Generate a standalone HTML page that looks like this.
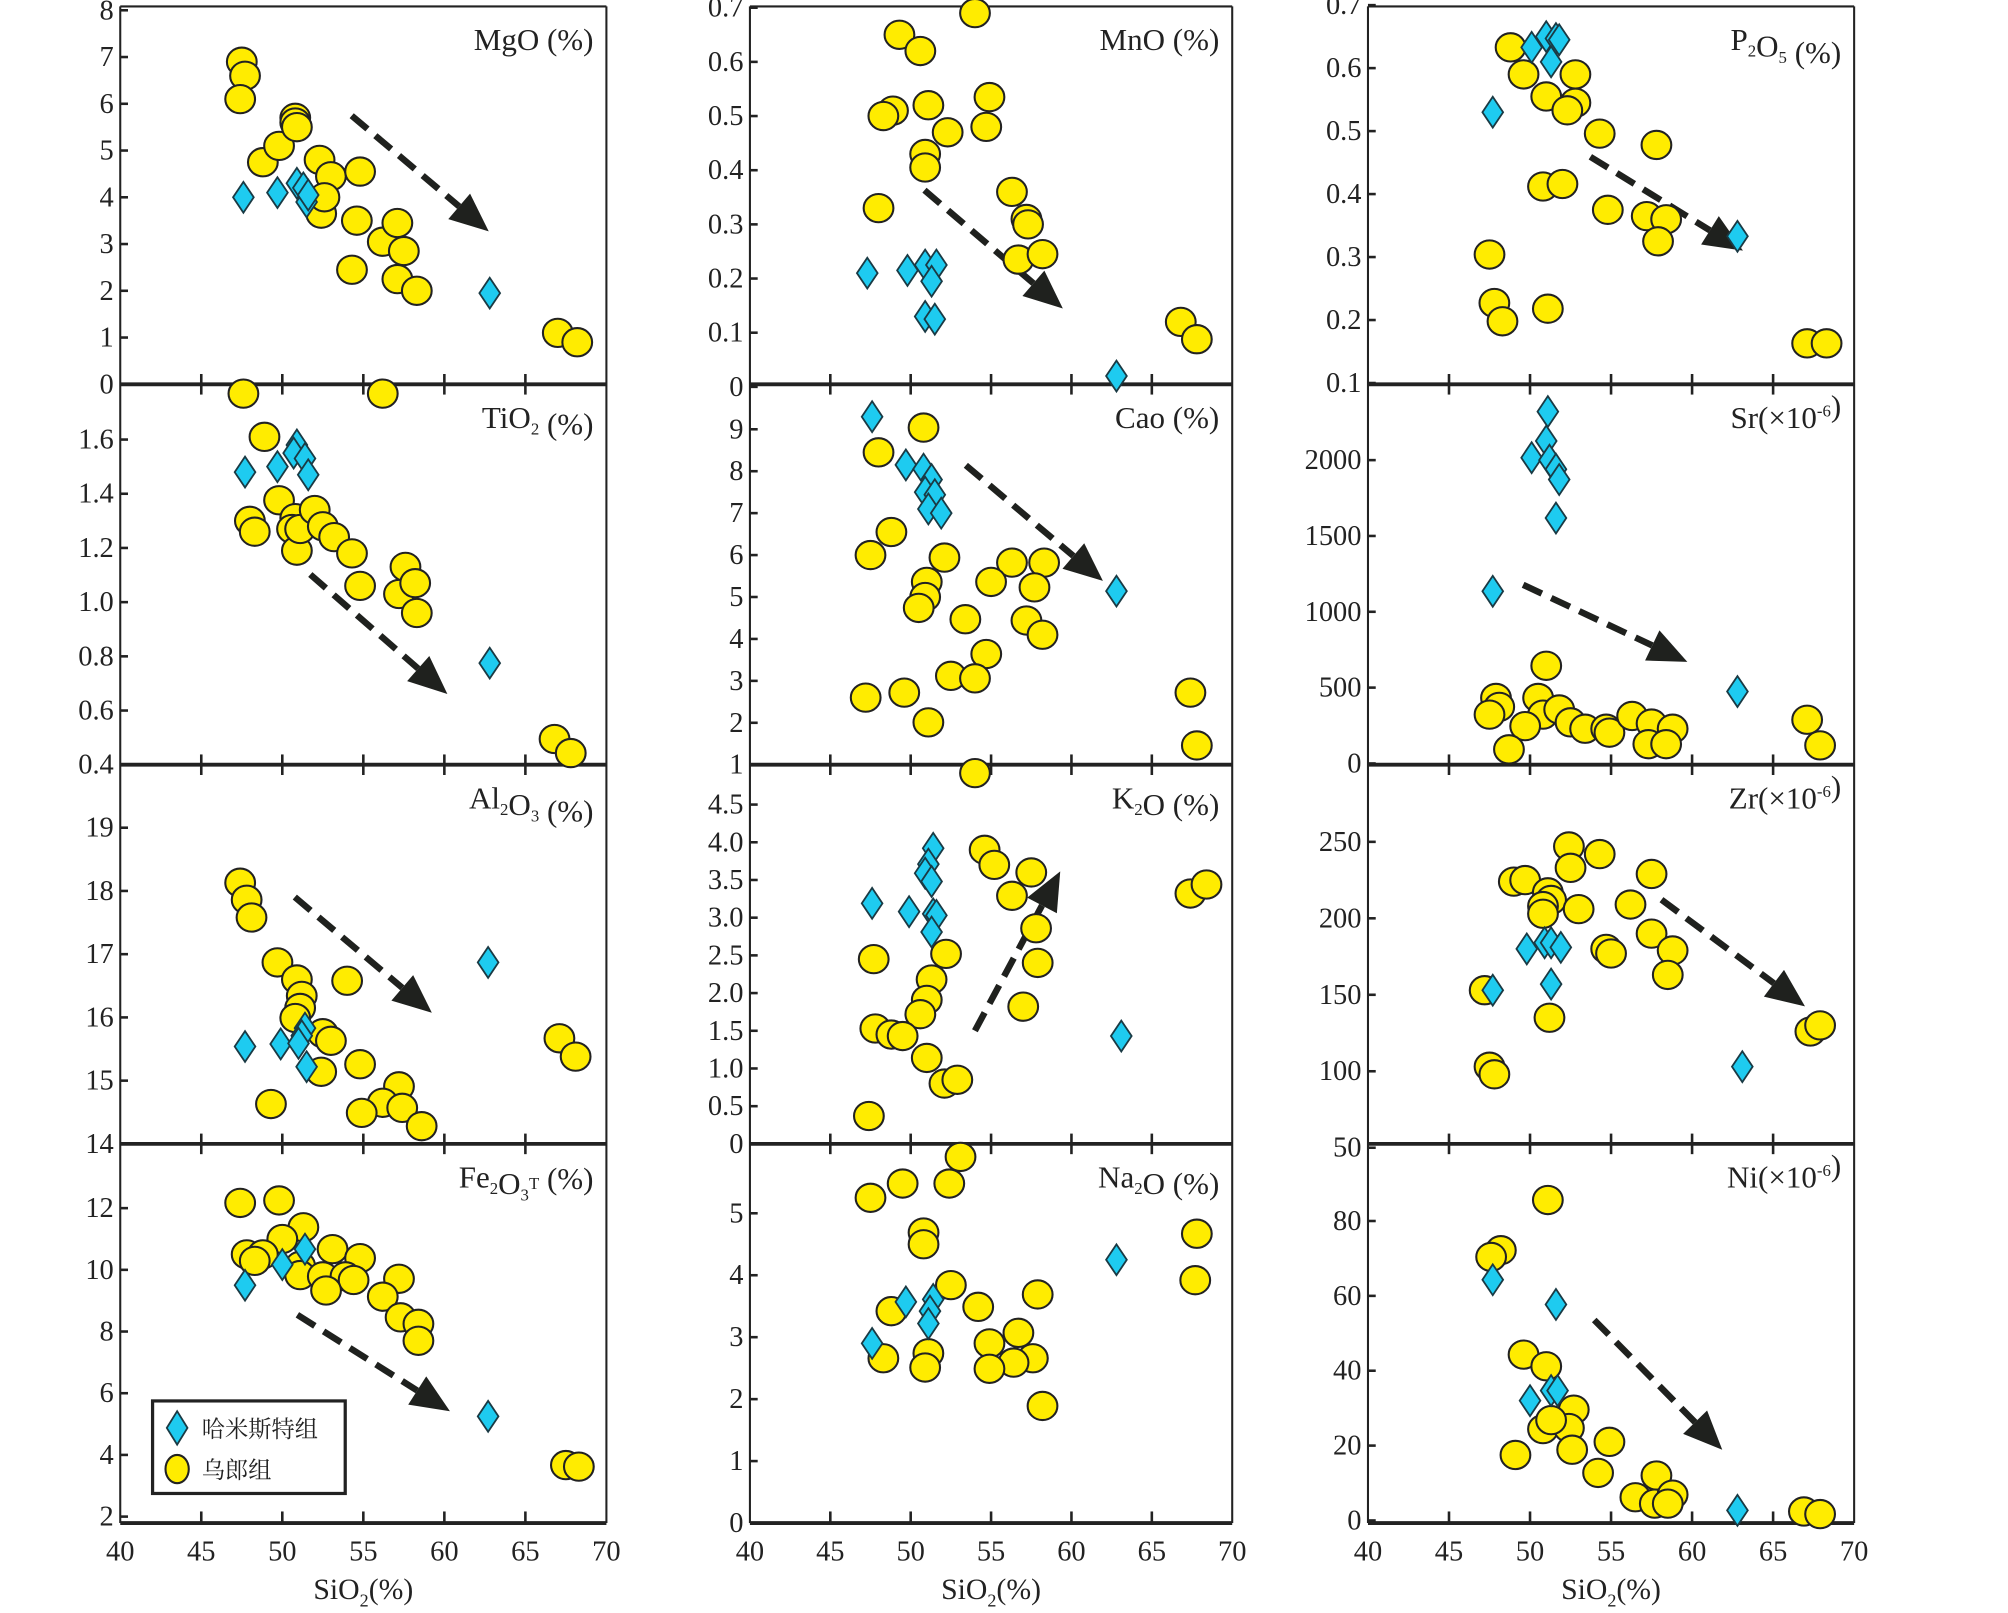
<!DOCTYPE html>
<html><head><meta charset="utf-8">
<style>
html,body{margin:0;padding:0;background:#fff;}
svg{display:block;}
text{font-family:"Liberation Serif","Noto Serif CJK SC",serif;fill:#222;}
</style></head>
<body>
<svg id="chart" width="2008" height="1613" viewBox="0 0 1553 1255" preserveAspectRatio="none" xmlns="http://www.w3.org/2000/svg">
<g id="root"></g>
</svg>
<script>
// ---- data (SiO2, value) ----
const xTicks=[40,45,50,55,60,65,70];
const mgoCircles=[[47.5,6.9],[47.7,6.6],[47.4,6.1],[48.8,4.75],[49.8,5.1],[50.8,5.7],[50.8,5.6],[50.9,5.5],[52.3,4.8],[53,4.45],[52.4,3.65],[52.6,4.0],[54.8,4.55],[54.6,3.5],[54.3,2.45],[56.2,3.05],[57.1,3.45],[57.5,2.85],[57.1,2.25],[58.3,2.0],[67,1.1],[68.2,0.9],[47.6,-0.2],[56.2,-0.2]];
const mgoDiamonds=[[47.6,4.0],[49.7,4.1],[50.9,4.3],[51.3,4.2],[51.5,3.9],[51.6,4.05],[62.8,1.95]];
const mnoCircles=[[49.3,0.65],[54,0.69],[50.6,0.62],[48.9,0.51],[48.3,0.50],[51.1,0.52],[52.3,0.47],[54.9,0.535],[54.7,0.48],[50.9,0.43],[50.9,0.405],[48,0.33],[56.3,0.36],[57.2,0.31],[57.3,0.30],[56.7,0.235],[58.2,0.245],[66.8,0.12],[67.8,0.088]];
const mnoDiamonds=[[47.3,0.21],[49.8,0.215],[50.9,0.225],[51.6,0.225],[51.3,0.195],[50.9,0.13],[51.5,0.125],[62.8,0.02]];
const p2o5Circles=[[48.8,0.633],[49.6,0.59],[52.8,0.59],[51,0.555],[52.8,0.545],[52.3,0.533],[54.3,0.496],[57.8,0.478],[50.8,0.412],[52,0.416],[54.8,0.375],[57.2,0.365],[58.4,0.36],[57.9,0.325],[47.5,0.304],[47.8,0.227],[48.3,0.198],[51.1,0.218],[67.1,0.163],[68.3,0.163]];
const p2o5Diamonds=[[50.1,0.633],[51,0.65],[51.6,0.647],[51.8,0.645],[51.3,0.61],[47.7,0.53],[62.8,0.333]];
const tio2Circles=[[48.9,1.61],[49.8,1.376],[48,1.30],[48.3,1.26],[50.8,1.31],[50.6,1.27],[50.9,1.19],[51.1,1.27],[52,1.34],[52.5,1.28],[53.2,1.24],[54.3,1.18],[54.8,1.06],[57.6,1.13],[57.2,1.03],[58.2,1.07],[58.3,0.96],[66.8,0.495],[67.8,0.443]];
const tio2Diamonds=[[47.7,1.48],[49.7,1.50],[50.9,1.58],[50.7,1.55],[51.4,1.53],[51.6,1.47],[62.8,0.775]];
const caoCircles=[[50.8,9.04],[48,8.45],[48.8,6.55],[47.5,6.0],[52.1,5.94],[56.3,5.82],[58.3,5.82],[51,5.36],[55,5.36],[57.7,5.23],[50.9,5.0],[50.5,4.74],[53.4,4.47],[57.2,4.44],[58.2,4.1],[54.7,3.64],[52.5,3.12],[54,3.06],[47.2,2.6],[49.6,2.72],[51.1,2.01],[67.4,2.72],[67.8,1.46],[54,0.8]];
const caoDiamonds=[[47.6,9.3],[49.7,8.15],[50.8,8.05],[51.3,7.8],[50.9,7.5],[51.5,7.44],[51.1,7.1],[51.9,7.0],[62.8,5.14]];
const srCircles=[[51,644],[47.9,432],[48.1,373],[47.5,322],[50.5,432],[50.8,322],[51.8,356],[49.7,246],[48.7,93],[52.5,271],[53.4,229],[54.7,229],[54.9,203],[56.3,313],[57.5,263],[58.8,229],[57.3,127],[58.4,127],[67.1,288],[67.9,119]];
const srDiamonds=[[51.1,2320],[51,2126],[50.1,2016],[51.2,2000],[51.6,1940],[51.8,1872],[51.6,1618],[47.7,1135],[62.8,474]];
const al2o3Circles=[[47.4,18.13],[47.8,17.86],[48.1,17.58],[49.7,16.87],[50.9,16.6],[51.2,16.34],[51.1,16.15],[50.8,15.99],[54,16.58],[52.5,15.75],[53,15.63],[54.8,15.26],[52.4,15.14],[57.2,14.91],[56.2,14.65],[57.4,14.57],[54.9,14.49],[49.3,14.63],[58.6,14.28],[67.1,15.67],[68.1,15.38]];
const al2o3Diamonds=[[47.7,15.54],[49.9,15.58],[51.4,15.83],[51.2,15.71],[51,15.59],[51.5,15.22],[62.7,16.87]];
const k2oCircles=[[54.6,3.9],[55.2,3.7],[57.5,3.6],[56.3,3.29],[67.4,3.32],[68.4,3.44],[47.7,2.45],[52.2,2.52],[57.8,2.86],[57.9,2.4],[57,1.82],[51.3,2.18],[51,1.91],[50.6,1.72],[47.8,1.53],[48.8,1.45],[49.5,1.43],[51,1.14],[52.1,0.8],[52.9,0.85],[47.4,0.37]];
const k2oDiamonds=[[51.4,3.92],[51.1,3.71],[50.9,3.59],[51.3,3.48],[47.6,3.19],[49.9,3.08],[51.4,3.05],[51.6,3.03],[51.3,2.81],[63.1,1.43]];
const zrCircles=[[52.4,247],[54.3,242],[49,224],[49.7,225],[51.1,217],[51.3,212],[50.8,208],[50.8,203],[52.5,233],[57.5,229],[53,206],[56.2,209],[57.5,190],[54.7,180],[55,177],[58.8,179],[58.5,163],[47.2,153],[47.5,103],[47.8,98],[51.2,135],[67.3,126],[67.9,130]];
const zrDiamonds=[[49.8,180],[50.9,184],[51.3,184],[51.9,181],[51.3,157],[47.7,153],[63.1,103]];
const fe2o3Circles=[[47.4,12.17],[49.8,12.25],[51.3,11.38],[50,11],[47.8,10.5],[48.8,10.5],[48.3,10.29],[53.1,10.67],[54.8,10.38],[51.1,10.13],[51.1,9.83],[52.5,9.79],[53.9,9.79],[54.4,9.67],[57.2,9.71],[52.7,9.33],[56.2,9.13],[57.3,8.46],[58.4,8.25],[58.4,7.7],[67.5,3.67],[68.3,3.62]];
const fe2o3Diamonds=[[47.7,9.5],[50,10.17],[51.4,10.67],[62.7,5.25]];
const na2oCircles=[[53.1,5.91],[49.5,5.48],[52.4,5.48],[47.5,5.25],[50.8,4.69],[50.8,4.5],[67.8,4.67],[67.7,3.92],[52.5,3.84],[57.9,3.69],[54.2,3.49],[48.8,3.42],[56.7,3.07],[54.9,2.9],[51.1,2.74],[48.3,2.66],[57.6,2.66],[56.4,2.59],[54.9,2.49],[50.9,2.51],[58.2,1.89]];
const na2oDiamonds=[[49.7,3.57],[51.4,3.61],[51.2,3.42],[51.1,3.22],[47.6,2.9],[62.8,4.25]];
const niCircles=[[51.1,85.6],[48.2,72.2],[47.6,70.4],[49.6,44.3],[51,41.2],[52.7,29.6],[50.8,24.4],[52.4,24.7],[51.3,26.8],[49.1,17.5],[52.6,18.9],[54.9,21],[54.2,12.7],[57.8,12],[56.5,6.2],[57.7,4.5],[58.8,6.9],[58.5,4.5],[66.9,2.4],[67.9,1.7]];
const niDiamonds=[[47.7,64.3],[51.6,57.7],[50,32],[51.3,34.7],[51.7,34.7],[62.8,2.7]];
// y tick labels
const mgoTicks=["0","1","2","3","4","5","6","7","8"];
const mnoTicks=["0","0.1","0.2","0.3","0.4","0.5","0.6","0.7"];
const p2o5Ticks=["0.1","0.2","0.3","0.4","0.5","0.6","0.7"];
const tio2Ticks=["0.4","0.6","0.8","1.0","1.2","1.4","1.6"];
const caoTicks=["1","2","3","4","5","6","7","8","9"];
const srTicks=["0","500","1000","1500","2000"];
const al2o3Ticks=["14","15","16","17","18","19"];
const k2oTicks=["0","0.5","1.0","1.5","2.0","2.5","3.0","3.5","4.0","4.5"];
const zrTicks=["50","100","150","200","250"];
const fe2o3Ticks=["2","4","6","8","10","12"];
const na2oTicks=["0","1","2","3","4","5"];
const niTicks=["0","20","40","60","80"];

// ---- layout ----
const NS="http://www.w3.org/2000/svg";
const root=document.getElementById('root');
const colX=[93,580,1058], colW=[376,373,376];
const rowY=[5,299,595,890,1185];
function mk(tag,attrs,parent){const e=document.createElementNS(NS,tag);for(const k in attrs)e.setAttribute(k,attrs[k]);(parent||root).appendChild(e);return e;}
const panels=[
 {id:'mgo',c:0,r:0,v0:0,p0:299,v1:8,p1:8,circ:mgoCircles,dia:mgoDiamonds,ticks:mgoTicks,title:[['MgO (%)']],arrow:[272,90,378,180]},
 {id:'mno',c:1,r:0,v0:0,p0:301,v1:0.7,p1:6,circ:mnoCircles,dia:mnoDiamonds,ticks:mnoTicks,title:[['MnO (%)']],arrow:[715,148,822,240]},
 {id:'p2o5',c:2,r:0,v0:0.1,p0:298,v1:0.7,p1:4,circ:p2o5Circles,dia:p2o5Diamonds,ticks:p2o5Ticks,title:[['P'],['2','sub'],['O'],['5','sub'],[' (%)']],arrow:[1230,122,1348,195]},
 {id:'tio2',c:0,r:1,v0:0.4,p0:595,v1:1.6,p1:342,circ:tio2Circles,dia:tio2Diamonds,ticks:tio2Ticks,title:[['TiO'],['2','sub'],[' (%)']],arrow:[240,447,346,540]},
 {id:'cao',c:1,r:1,v0:1,p0:595,v1:9,p1:334,circ:caoCircles,dia:caoDiamonds,ticks:caoTicks,title:[['Cao (%)']],arrow:[747,362,853,452]},
 {id:'sr',c:2,r:1,v0:0,p0:594,v1:2000,p1:358,circ:srCircles,dia:srDiamonds,ticks:srTicks,title:[['Sr(×10'],['-6','sup'],[')']],arrow:[1178,455,1305,515]},
 {id:'al2o3',c:0,r:2,v0:14,p0:890,v1:19,p1:644,circ:al2o3Circles,dia:al2o3Diamonds,ticks:al2o3Ticks,title:[['Al'],['2','sub'],['O'],['3','sub'],[' (%)']],arrow:[228,698,334,788]},
 {id:'k2o',c:1,r:2,v0:0,p0:890,v1:4.5,p1:626,circ:k2oCircles,dia:k2oDiamonds,ticks:k2oTicks,title:[['K'],['2','sub'],['O (%)']],arrow:[754,802,820,678]},
 {id:'zr',c:2,r:2,v0:50,p0:893,v1:250,p1:655,circ:zrCircles,dia:zrDiamonds,ticks:zrTicks,title:[['Zr(×10'],['-6','sup'],[')']],arrow:[1285,700,1396,783]},
 {id:'fe2o3',c:0,r:3,v0:2,p0:1180,v1:12,p1:940,circ:fe2o3Circles,dia:fe2o3Diamonds,ticks:fe2o3Ticks,title:[['Fe'],['2','sub'],['O'],['3','sub'],['T','sup'],[' (%)']],arrow:[230,1023,348,1098]},
 {id:'na2o',c:1,r:3,v0:0,p0:1185,v1:5,p1:944,circ:na2oCircles,dia:na2oDiamonds,ticks:na2oTicks,title:[['Na'],['2','sub'],['O (%)']],arrow:null},
 {id:'ni',c:2,r:3,v0:0,p0:1183,v1:80,p1:950,circ:niCircles,dia:niDiamonds,ticks:niTicks,title:[['Ni(×10'],['-6','sup'],[')']],arrow:[1233,1027,1332,1128]}
];
function xs(c,v){return colX[c]+(v-40)/30*colW[c];}

// frames
for(let c=0;c<3;c++){
  const g=mk('g',{});
  
  
  mk('line',{x1:colX[c],y1:rowY[0],x2:colX[c],y2:rowY[4],stroke:'#222','stroke-width':1.6},g);
  mk('line',{x1:colX[c]+colW[c],y1:rowY[0],x2:colX[c]+colW[c],y2:rowY[4],stroke:'#222','stroke-width':1.6},g);
  mk('line',{x1:colX[c],y1:rowY[0],x2:colX[c]+colW[c],y2:rowY[0],stroke:'#222','stroke-width':1.6},g);
  for(let r=1;r<5;r++){
    mk('line',{x1:colX[c],y1:rowY[r],x2:colX[c]+colW[c],y2:rowY[r],stroke:'#222','stroke-width':3},g);
    for(const t of xTicks.slice(1,-1)){
      const x=xs(c,t);
      mk('line',{x1:x,y1:rowY[r]-(r==4?9:8),x2:x,y2:rowY[r]+(r==4?0:8),stroke:'#222','stroke-width':2},g);
    }
  }
  const ax=mk('g',{},g);
  
  
  for(const t of xTicks){
    const tx=mk('text',{x:xs(c,t),y:1214,'text-anchor':'middle','font-size':22},ax);
    tx.textContent=t;
  }
  const xt=mk('text',{x:colX[c]+colW[c]/2,y:1244,'text-anchor':'middle','font-size':23},g);
  
  
  xt.innerHTML='SiO<tspan font-size="14" dy="6">2</tspan><tspan dy="-6">(%)</tspan>';
}

for(const p of panels){
  const g=mk('g',{});
  
  
  const ys=v=>p.p0+(v-p.v0)/(p.v1-p.v0)*(p.p1-p.p0);
  const x0=colX[p.c];
  const n=p.ticks.length;
  for(let i=0;i<n;i++){
    const v=parseFloat(p.ticks[i]);
    const y=ys(v);
    mk('line',{x1:x0,y1:y,x2:x0+6,y2:y,stroke:'#222','stroke-width':2},g);
    const t=mk('text',{x:x0-5,y:y+7,'text-anchor':'end','font-size':22},g);
    
    
    t.textContent=p.ticks[i];
  }
  const tt=mk('text',{x:x0+colW[p.c]-10,y:rowY[p.r]+34,'text-anchor':'end','font-size':24},g);
  
  
  let h='';
  for(const s of p.title){
    if(s[1]=='sub')h+='<tspan font-size="13" dy="5">'+s[0]+'</tspan><tspan dy="-5"></tspan>';
    else if(s[1]=='sup')h+='<tspan font-size="13" dy="-9">'+s[0]+'</tspan><tspan dy="9"></tspan>';
    else h+='<tspan>'+s[0]+'</tspan>';
  }
  tt.innerHTML=h;
  if(p.arrow){
    const a=p.arrow;
    const dx=a[2]-a[0],dy=a[3]-a[1],L=Math.hypot(dx,dy);
    const ux=dx/L,uy=dy/L,hl=30,hw=13;
    const bx=a[2]-ux*hl,by=a[3]-uy*hl;
    const ln=mk('line',{x1:a[0],y1:a[1],x2:bx,y2:by,stroke:'#1f211e','stroke-width':5,'stroke-dasharray':'16,8'},g);
    
    
    const hd=mk('polygon',{points:`${a[2]},${a[3]} ${bx-uy*hw},${by+ux*hw} ${bx+uy*hw},${by-ux*hw}`,fill:'#1f211e'},g);
    
    
  }
  for(const d of p.circ){
    const e=mk('ellipse',{cx:xs(p.c,d[0]),cy:ys(d[1]),rx:11.5,ry:11,fill:'#ffec00',stroke:'#222','stroke-width':1.6},g);
    
    
  }
  for(const d of p.dia){
    const x=xs(p.c,d[0]),y=ys(d[1]);
    const e=mk('polygon',{points:`${x},${y-12} ${x+8},${y} ${x},${y+12} ${x-8},${y}`,fill:'#1ecbf0',stroke:'#1a3a44','stroke-width':1.4},g);
    
    
  }
}
const lg=mk('g',{});


mk('rect',{x:118,y:1090,width:149,height:72,fill:'#fff',stroke:'#222','stroke-width':2.5},lg);
mk('polygon',{points:'137,1098 145,1111 137,1124 129,1111',fill:'#1ecbf0',stroke:'#1a3a44','stroke-width':1.4},lg);
mk('ellipse',{cx:137,cy:1143,rx:9,ry:11,fill:'#ffec00',stroke:'#222','stroke-width':1.6},lg);
const l1=mk('text',{x:156,y:1118,'font-size':18},lg);


l1.textContent='哈米斯特组';
const l2=mk('text',{x:156,y:1150,'font-size':18},lg);


l2.textContent='乌郎组';
</script>
</body></html>
